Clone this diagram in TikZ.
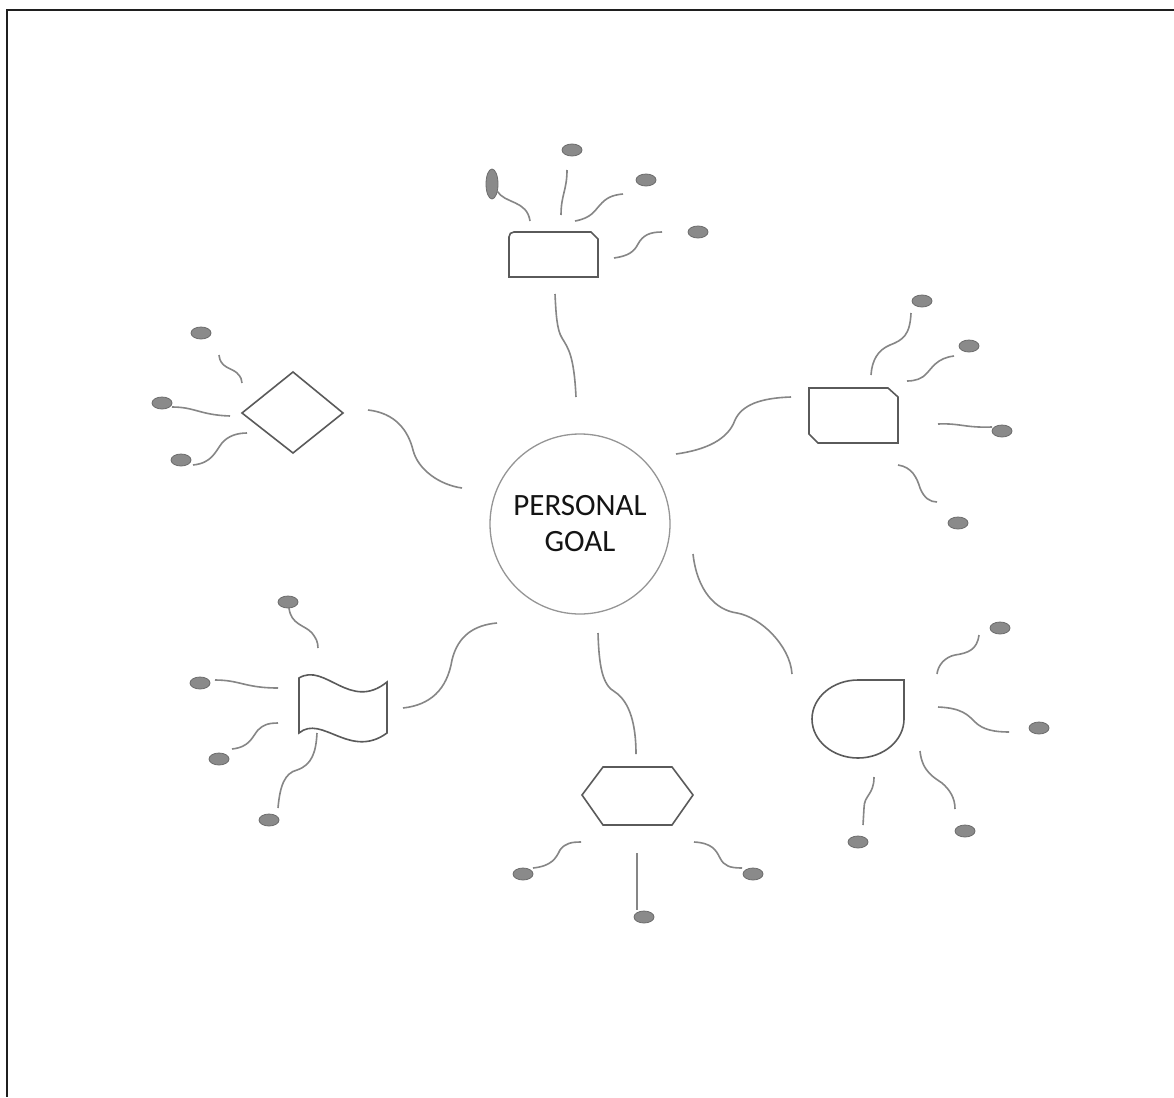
\documentclass[tikz,border=0pt]{standalone}
\usepackage{fontspec}
\setmainfont{Carlito}
\usetikzlibrary{shapes.geometric}
\definecolor{linkgray}{HTML}{868686}
\definecolor{shapegray}{HTML}{5A5A5A}
\definecolor{circgray}{HTML}{959595}
\definecolor{dotfill}{HTML}{8A8A8A}
\definecolor{dotline}{HTML}{6C6C6C}
\definecolor{textdark}{HTML}{141414}
\tikzset{
  dot/.style={ellipse, fill=dotfill, draw=dotline, line width=0.8,
    minimum width=20, minimum height=12, inner sep=0},
  vdot/.style={dot, minimum width=12, minimum height=30},
  link/.style={draw=linkgray, line width=1.6},
  outline/.style={draw=shapegray, line width=1.6, line join=miter},
  frame/.style={draw=black!88, line width=2.4}
}
\begin{document}
\begin{tikzpicture}[x=1pt,y=-1pt]
\useasboundingbox (0,0) rectangle (1174,1097);
\fill[white] (0,0) rectangle (1174,1097);
% frame
\coordinate (fr1) at (1174,10);
\coordinate (fr2) at (7,10);
\coordinate (fr3) at (7,1097);
\draw[frame] (fr1) -- (fr2) -- (fr3);

% centre
\node[circle, draw=circgray, line width=1.3, minimum size=180, inner sep=0,
  font=\fontsize{31}{36}\selectfont, text=textdark, align=center]
  (goal) at (580,524) {PERSONAL\\GOAL};

% ---------- shapes ----------
\coordinate (topbox) at (553,254);
\draw[outline] (509,277) -- (509,237) .. controls (509,234) and (511,232) .. (514,232)
  -- (591,232) -- (598,239) -- (598,277) -- cycle;
\coordinate (rightbox) at (853,415);
\draw[outline] (809,388) -- (888,388) -- (898,397) -- (898,443) -- (818,443) -- (809,434) -- cycle;
\coordinate (diam) at (293,412);
\draw[outline] (242,413) -- (293,372) -- (343,413) -- (293,453) -- cycle;
\coordinate (flag) at (343,705);
\draw[outline] (299,678) .. controls (325,662) and (350,712) .. (387,682)
  -- (387,733) .. controls (350,760) and (322,714) .. (299,733) -- cycle;
\coordinate (hexa) at (637,796);
\draw[outline] (582,795) -- (603,767) -- (672,767) -- (693,795) -- (672,825) -- (603,825) -- cycle;
\coordinate (drop) at (858,719);
\draw[outline] (904,680) -- (904,719) .. controls (904,740.5) and (883.4,758) .. (858,758)
  .. controls (832.6,758) and (812,740.5) .. (812,719)
  .. controls (812,697.5) and (832.6,680) .. (858,680) -- cycle;

% ---------- dots ----------
\node[vdot] (t1) at (492,184) {};
\node[dot] (t2) at (572,150) {};
\node[dot] (t3) at (646,180) {};
\node[dot] (t4) at (698,232) {};
\node[dot] (r1) at (922,301) {};
\node[dot] (r2) at (969,346) {};
\node[dot] (r3) at (1002,431) {};
\node[dot] (r4) at (958,523) {};
\node[dot] (d1) at (201,333) {};
\node[dot] (d2) at (162,403) {};
\node[dot] (d3) at (181,460) {};
\node[dot] (f1) at (288,602) {};
\node[dot] (f2) at (200,683) {};
\node[dot] (f3) at (219,759) {};
\node[dot] (f4) at (269,820) {};
\node[dot] (h1) at (523,874) {};
\node[dot] (h2) at (644,917) {};
\node[dot] (h3) at (753,874) {};
\node[dot] (w1) at (1000,628) {};
\node[dot] (w2) at (1039,728) {};
\node[dot] (w3) at (965,831) {};
\node[dot] (w4) at (858,842) {};

% ---------- main connectors ----------
\coordinate (ct) at (576,397); \coordinate (bt) at (555,294);
\draw[link] (bt) .. controls (556,315) and (557,330) .. (562,338)
  .. controls (568,348) and (574,355) .. (ct);
\coordinate (cr) at (676,454); \coordinate (br) at (791,397);
\draw[link] (cr) .. controls (705,450) and (728,440) .. (735,420)
  .. controls (742,405) and (760,398) .. (br);
\coordinate (cd) at (462,488); \coordinate (bd) at (368,410);
\draw[link] (bd) .. controls (395,413) and (408,430) .. (413,450)
  .. controls (418,470) and (440,485) .. (cd);
\coordinate (cf) at (497,623); \coordinate (bf) at (403,708);
\draw[link] (bf) .. controls (430,705) and (447,690) .. (452,660)
  .. controls (458,635) and (475,625) .. (cf);
\coordinate (ch) at (598,633); \coordinate (bh) at (636,754);
\draw[link] (ch) .. controls (599,665) and (602,685) .. (615,692)
  .. controls (630,702) and (636,725) .. (bh);
\coordinate (cw) at (693,554); \coordinate (bw) at (792,674);
\draw[link] (cw) .. controls (697,590) and (715,610) .. (737,613)
  .. controls (760,617) and (790,645) .. (bw);

% ---------- top branches ----------
\coordinate (t1a) at (497,191); \coordinate (t1b) at (530,221);
\draw[link] (t1a) .. controls (505,204) and (527,200) .. (t1b);
\coordinate (t2a) at (567,170); \coordinate (t2b) at (561,215);
\draw[link] (t2a) .. controls (567,190) and (561,195) .. (t2b);
\coordinate (t3a) at (575,221); \coordinate (t3b) at (623,194);
\draw[link] (t3a) .. controls (592,218) and (595,210) .. (600,205)
  .. controls (606,198) and (612,195) .. (t3b);
\coordinate (t4a) at (614,258); \coordinate (t4b) at (662,232);
\draw[link] (t4a) .. controls (628,256) and (634,252) .. (638,244)
  .. controls (643,235) and (650,232) .. (t4b);

% ---------- right branches ----------
\coordinate (r1a) at (911,313); \coordinate (r1b) at (871,375);
\draw[link] (r1a) .. controls (910,335) and (903,340) .. (890,345)
  .. controls (878,350) and (872,360) .. (r1b);
\coordinate (r2a) at (954,356); \coordinate (r2b) at (907,381);
\draw[link] (r2a) .. controls (937,358) and (932,368) .. (927,373)
  .. controls (922,379) and (915,381) .. (r2b);
\coordinate (r3a) at (938,424); \coordinate (r3b) at (992,427);
\draw[link] (r3a) .. controls (960,423) and (965,428) .. (r3b);
\coordinate (r4a) at (898,465); \coordinate (r4b) at (937,502);
\draw[link] (r4a) .. controls (912,467) and (917,478) .. (920,488)
  .. controls (924,498) and (930,502) .. (r4b);

% ---------- diamond branches ----------
\coordinate (d1a) at (219,355); \coordinate (d1b) at (242,383);
\draw[link] (d1a) .. controls (220,368) and (232,368) .. (237,373)
  .. controls (241,377) and (242,380) .. (d1b);
\coordinate (d2a) at (172,407); \coordinate (d2b) at (230,416);
\draw[link] (d2a) .. controls (195,407) and (200,415) .. (d2b);
\coordinate (d3a) at (193,465); \coordinate (d3b) at (247,433);
\draw[link] (d3a) .. controls (212,463) and (215,452) .. (222,443)
  .. controls (228,436) and (237,433) .. (d3b);

% ---------- flag branches ----------
\coordinate (f1a) at (289,608); \coordinate (f1b) at (318,648);
\draw[link] (f1a) .. controls (291,625) and (305,625) .. (312,633)
  .. controls (316,638) and (318,642) .. (f1b);
\coordinate (f2a) at (215,680); \coordinate (f2b) at (278,688);
\draw[link] (f2a) .. controls (240,680) and (245,688) .. (f2b);
\coordinate (f3a) at (232,749); \coordinate (f3b) at (278,723);
\draw[link] (f3a) .. controls (250,747) and (252,737) .. (258,730)
  .. controls (263,725) and (268,723) .. (f3b);
\coordinate (f4a) at (278,808); \coordinate (f4b) at (317,733);
\draw[link] (f4a) .. controls (280,785) and (285,773) .. (297,770)
  .. controls (312,765) and (316,752) .. (f4b);

% ---------- hexagon branches ----------
\coordinate (h1a) at (533,868); \coordinate (h1b) at (581,842);
\draw[link] (h1a) .. controls (552,866) and (556,858) .. (560,850)
  .. controls (565,843) and (572,842) .. (h1b);
\coordinate (h2a) at (637,853); \coordinate (h2b) at (637,910);
\draw[link] (h2a) -- (h2b);
\coordinate (h3a) at (694,842); \coordinate (h3b) at (742,868);
\draw[link] (h3a) .. controls (712,843) and (716,850) .. (720,858)
  .. controls (724,866) and (730,868) .. (h3b);

% ---------- teardrop branches ----------
\coordinate (w1a) at (979,635); \coordinate (w1b) at (937,674);
\draw[link] (w1a) .. controls (977,650) and (968,653) .. (955,655)
  .. controls (945,657) and (938,665) .. (w1b);
\coordinate (w2a) at (938,707); \coordinate (w2b) at (1009,732);
\draw[link] (w2a) .. controls (962,708) and (968,715) .. (975,722)
  .. controls (983,730) and (995,732) .. (w2b);
\coordinate (w3a) at (920,751); \coordinate (w3b) at (955,809);
\draw[link] (w3a) .. controls (922,772) and (935,778) .. (942,783)
  .. controls (950,790) and (955,798) .. (w3b);
\coordinate (w4a) at (874,777); \coordinate (w4b) at (863,825);
\draw[link] (w4a) .. controls (874,795) and (864,795) .. (864,808) -- (w4b);
\end{tikzpicture}
\end{document}
